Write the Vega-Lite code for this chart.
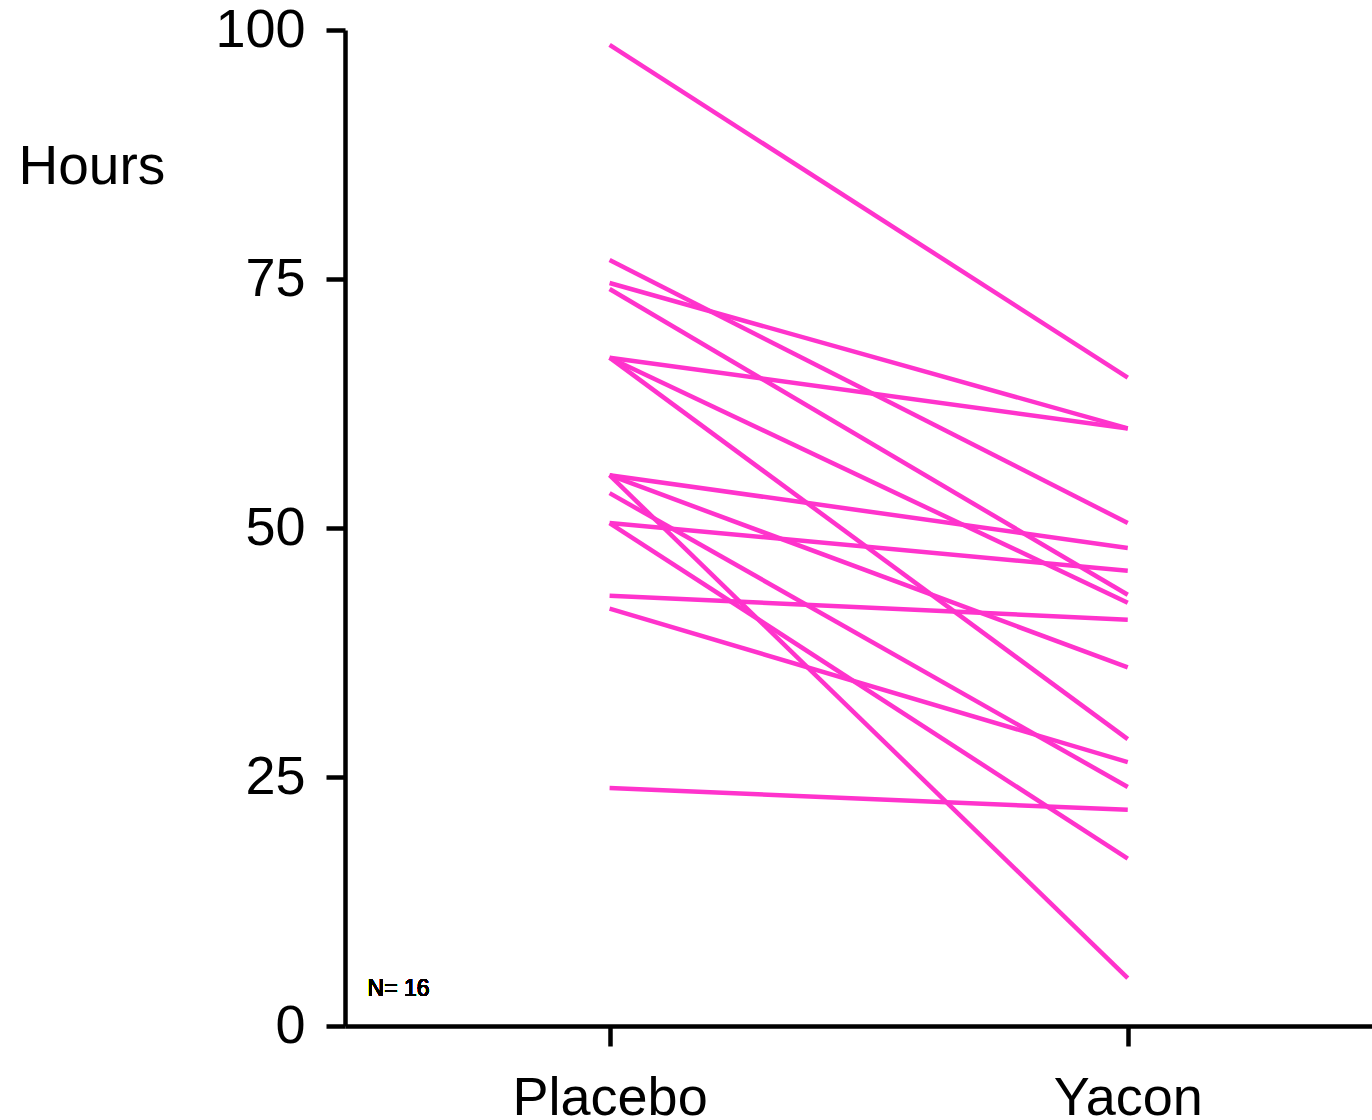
{
  "$schema": "https://vega.github.io/schema/vega-lite/v6.json",
  "width": 1027,
  "height": 996,
  "autosize": {"type": "none"},
  "padding": {"left": 345, "top": 30, "right": 0, "bottom": 94},
  "background": "white",
  "config": {
    "view": {"stroke": null},
    "font": "Liberation Sans"
  },
  "data": {
    "values": [
      {"subject": 1, "condition": "Placebo", "hours": 98.5},
      {"subject": 1, "condition": "Yacon", "hours": 65.1},
      {"subject": 2, "condition": "Placebo", "hours": 76.9},
      {"subject": 2, "condition": "Yacon", "hours": 50.5},
      {"subject": 3, "condition": "Placebo", "hours": 74.6},
      {"subject": 3, "condition": "Yacon", "hours": 60.0},
      {"subject": 4, "condition": "Placebo", "hours": 74.0},
      {"subject": 4, "condition": "Yacon", "hours": 43.3},
      {"subject": 5, "condition": "Placebo", "hours": 67.1},
      {"subject": 5, "condition": "Yacon", "hours": 60.0},
      {"subject": 6, "condition": "Placebo", "hours": 67.1},
      {"subject": 6, "condition": "Yacon", "hours": 42.5},
      {"subject": 7, "condition": "Placebo", "hours": 67.1},
      {"subject": 7, "condition": "Yacon", "hours": 28.8},
      {"subject": 8, "condition": "Placebo", "hours": 55.3},
      {"subject": 8, "condition": "Yacon", "hours": 48.0},
      {"subject": 9, "condition": "Placebo", "hours": 55.3},
      {"subject": 9, "condition": "Yacon", "hours": 36.0},
      {"subject": 10, "condition": "Placebo", "hours": 55.3},
      {"subject": 10, "condition": "Yacon", "hours": 4.8},
      {"subject": 11, "condition": "Placebo", "hours": 53.5},
      {"subject": 11, "condition": "Yacon", "hours": 24.0},
      {"subject": 12, "condition": "Placebo", "hours": 50.5},
      {"subject": 12, "condition": "Yacon", "hours": 45.7},
      {"subject": 13, "condition": "Placebo", "hours": 50.5},
      {"subject": 13, "condition": "Yacon", "hours": 16.8},
      {"subject": 14, "condition": "Placebo", "hours": 43.2},
      {"subject": 14, "condition": "Yacon", "hours": 40.8},
      {"subject": 15, "condition": "Placebo", "hours": 41.9},
      {"subject": 15, "condition": "Yacon", "hours": 26.5},
      {"subject": 16, "condition": "Placebo", "hours": 23.9},
      {"subject": 16, "condition": "Yacon", "hours": 21.7}
    ]
  },
  "layer": [
    {
      "mark": {"type": "line", "color": "#ff33cc", "strokeWidth": 4.5, "strokeCap": "butt"},
      "encoding": {
        "x": {
          "field": "condition",
          "type": "ordinal",
          "scale": {"type": "point", "domain": ["Placebo", "Yacon"], "padding": 0.491, "align": 0.52},
          "axis": {
            "title": null,
            "labelAngle": 0,
            "labelFontSize": 54,
            "labelLimit": 0,
            "labelColor": "black",
            "labelPadding": 25,
            "domainColor": "black",
            "domainWidth": 4.5,
            "tickColor": "black",
            "tickWidth": 4.5,
            "tickSize": 20,
            "grid": false
          }
        },
        "y": {
          "field": "hours",
          "type": "quantitative",
          "scale": {"domain": [0, 100], "nice": false, "zero": true},
          "axis": {
            "values": [0, 25, 50, 75, 100],
            "title": "Hours",
            "titleAngle": 0,
            "titleFontSize": 55,
            "titleFontWeight": "normal",
            "titleColor": "black",
            "titleAlign": "left",
            "titleBaseline": "alphabetic",
            "titleX": -327,
            "titleY": 153,
            "labelFontSize": 54,
            "labelColor": "black",
            "labelPadding": 21,
            "labelBaseline": "middle",
            "domainColor": "black",
            "domainWidth": 4.5,
            "tickColor": "black",
            "tickWidth": 4.5,
            "tickSize": 19,
            "grid": false
          }
        },
        "detail": {"field": "subject", "type": "nominal"}
      }
    },
    {
      "mark": {"type": "text", "text": "N= 16", "fontSize": 23, "align": "left", "baseline": "alphabetic", "dx": -242, "color": "black"},
      "encoding": {
        "x": {"datum": "Placebo"},
        "y": {"datum": 3.0}
      }
    }
  ]
}
